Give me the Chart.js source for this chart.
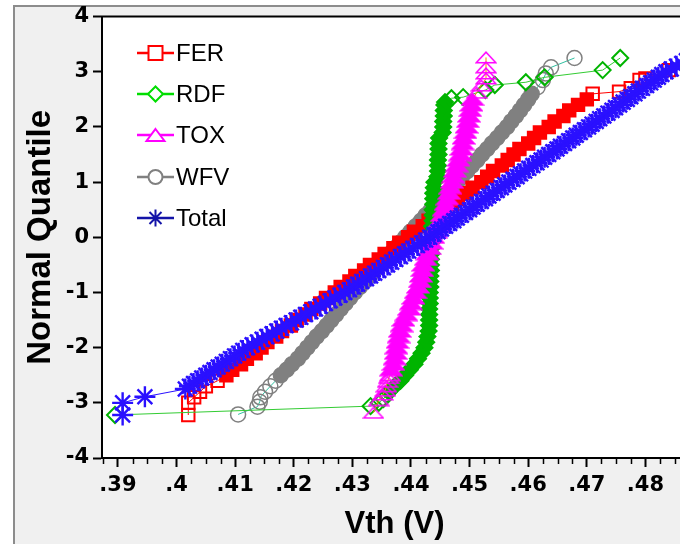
<!DOCTYPE html>
<html>
<head>
<meta charset="utf-8">
<script src="https://cdn.jsdelivr.net/npm/chart.js@4.4.1/dist/chart.umd.min.js"></script>
<style>
html, body { margin: 0; padding: 0; background: #ffffff; }
#wrap { position: relative; width: 680px; height: 544px; overflow: hidden; background: #ffffff; }
#frame { position: absolute; left: 13px; top: 5px; width: 720px; height: 600px; background: #f0f0f0;
         border-left: 2px solid #8c8c8c; border-top: 2px solid #8c8c8c; }
#c { position: absolute; left: 0; top: 0; }
</style>
</head>
<body>
<div id="wrap"><div id="frame"></div><canvas id="c" width="700" height="544"></canvas></div>
<script>
// ---------------- data ----------------
const seriesNames = ['FER', 'RDF', 'TOX', 'WFV', 'Total'];

const ferQ = [-3.22, -3.0, -2.9, -2.8, -2.7,
  -2.6, -2.5, -2.4, -2.3, -2.2, -2.1, -2.0, -1.9, -1.8, -1.7, -1.6, -1.5, -1.4, -1.3, -1.2, -1.1, -1.0,
  -0.9, -0.8, -0.7, -0.6, -0.5, -0.4, -0.3, -0.2, -0.1, 0.0, 0.1, 0.2, 0.3, 0.4, 0.5, 0.6, 0.7, 0.8, 0.9, 1.0,
  1.1, 1.2, 1.3, 1.4, 1.5, 1.6, 1.7, 1.8, 1.9, 2.0, 2.1, 2.2, 2.3, 2.4, 2.5, 2.6,
  2.64, 2.7, 2.85, 2.88, 3.03];
const ferVth = [0.402, 0.402, 0.403, 0.404, 0.405,
  0.407, 0.4085, 0.4095, 0.411, 0.412, 0.4135, 0.4145, 0.4155, 0.417, 0.418, 0.4195, 0.4205, 0.422, 0.423, 0.4245, 0.4255, 0.427,
  0.428, 0.4295, 0.4305, 0.432, 0.433, 0.4345, 0.4355, 0.437, 0.438, 0.4395, 0.4405, 0.442, 0.443, 0.4445, 0.4455, 0.447, 0.448, 0.4495, 0.4505, 0.452,
  0.453, 0.454, 0.4555, 0.4565, 0.4575, 0.4585, 0.46, 0.461, 0.462, 0.4635, 0.4645, 0.466, 0.467, 0.4685, 0.47, 0.471,
  0.4755, 0.4775, 0.479, 0.48, 0.484];

const rdfQ = [-3.22, -3.06, -3.0, -2.93, -2.86,
  -2.8, -2.7, -2.6, -2.5, -2.4, -2.3, -2.2, -2.1, -2.0, -1.9, -1.8, -1.7, -1.6, -1.5, -1.4, -1.3, -1.2, -1.1, -1.0,
  -0.9, -0.8, -0.7, -0.6, -0.5, -0.4, -0.3, -0.2, -0.1, 0.0, 0.1, 0.2, 0.3, 0.4, 0.5, 0.6, 0.7, 0.8, 0.9, 1.0,
  1.1, 1.2, 1.3, 1.4, 1.5, 1.6, 1.7, 1.8, 1.9, 2.0, 2.1, 2.2, 2.3, 2.4, 2.45,
  2.52, 2.54, 2.67, 2.76, 2.81, 2.9, 3.03, 3.25];
const rdfVth = [0.3895, 0.4331, 0.4345, 0.4353, 0.4358,
  0.4362, 0.4372, 0.4382, 0.439, 0.4398, 0.4406, 0.4412, 0.4418, 0.4423, 0.4426, 0.4428, 0.443, 0.4431, 0.4431, 0.4431, 0.4431, 0.4432, 0.4432, 0.4432,
  0.4433, 0.4433, 0.4433, 0.4434, 0.4434, 0.4434, 0.4435, 0.4435, 0.4435, 0.4436, 0.4436, 0.4436, 0.4437, 0.4437, 0.4437, 0.4438, 0.4438, 0.4438, 0.4439, 0.444,
  0.4445, 0.4446, 0.4446, 0.4446, 0.4447, 0.4447, 0.4447, 0.4448, 0.4454, 0.4455, 0.4455, 0.4456, 0.4456, 0.4457, 0.4458,
  0.4469, 0.4489, 0.4527, 0.4543, 0.4596, 0.4628, 0.4727, 0.4757];

const toxQ = [-3.18, -2.95, -2.85, -2.78, -2.7, -2.62, -2.55,
  -2.5, -2.4, -2.3, -2.2, -2.1, -2.0, -1.9, -1.8, -1.7, -1.6, -1.5, -1.4, -1.3, -1.2, -1.1, -1.0,
  -0.9, -0.8, -0.7, -0.6, -0.5, -0.4, -0.3, -0.2, -0.1, 0.0, 0.1, 0.2, 0.3, 0.4, 0.5, 0.6, 0.7, 0.8, 0.9, 1.0,
  1.1, 1.2, 1.3, 1.4, 1.5, 1.6, 1.7, 1.8, 1.9, 2.0, 2.1, 2.2, 2.3, 2.4, 2.5,
  2.62, 2.75, 2.88, 2.97, 3.08, 3.26];
const toxVth = [0.4336, 0.4345, 0.4352, 0.4356, 0.4358, 0.436, 0.4362,
  0.4364, 0.4366, 0.437, 0.4372, 0.4374, 0.4375, 0.4377, 0.4379, 0.4381, 0.4384, 0.4387, 0.4392, 0.4397, 0.44, 0.4404, 0.4408,
  0.4412, 0.4415, 0.4417, 0.4419, 0.4421, 0.4425, 0.4428, 0.4432, 0.4435, 0.4438, 0.4442, 0.4446, 0.445, 0.4453, 0.4456, 0.4459, 0.4462, 0.4465, 0.4467, 0.447,
  0.4472, 0.4475, 0.4478, 0.4481, 0.4484, 0.4486, 0.4488, 0.449, 0.4493, 0.4495, 0.4497, 0.4499, 0.4501, 0.4503, 0.4505,
  0.4512, 0.452, 0.4528, 0.4528, 0.4528, 0.4528];

const wfvQ = [-3.21, -3.07, -2.98,
  -2.9, -2.8, -2.7, -2.6, -2.5, -2.4, -2.3, -2.2, -2.1, -2.0, -1.9, -1.8, -1.7, -1.6, -1.5, -1.4, -1.3, -1.2, -1.1, -1.0,
  -0.9, -0.8, -0.7, -0.6, -0.5, -0.4, -0.3, -0.2, -0.1, 0.0, 0.1, 0.2, 0.3, 0.4, 0.5, 0.6, 0.7, 0.8, 0.9, 1.0,
  1.1, 1.2, 1.3, 1.4, 1.5, 1.6, 1.7, 1.8, 1.9, 2.0, 2.1, 2.2, 2.3, 2.4, 2.5, 2.6,
  2.72, 2.85, 2.97, 3.08, 3.25];
const wfvVth = [0.4105, 0.4138, 0.4142,
  0.4143, 0.4151, 0.416, 0.4169, 0.4178, 0.4188, 0.4197, 0.4207, 0.4215, 0.4223, 0.4231, 0.4239, 0.4248, 0.4256, 0.4264, 0.4272, 0.428, 0.4288, 0.4296, 0.4304,
  0.4313, 0.4321, 0.433, 0.4338, 0.4347, 0.4355, 0.4364, 0.4372, 0.4381, 0.439, 0.4399, 0.4408, 0.4417, 0.4425, 0.4434, 0.4443, 0.4452, 0.4461, 0.447, 0.4479,
  0.4487, 0.4496, 0.4504, 0.4513, 0.4521, 0.453, 0.4538, 0.4547, 0.4555, 0.4564, 0.4571, 0.4579, 0.4586, 0.4593, 0.46, 0.4606,
  0.4616, 0.4625, 0.463, 0.4639, 0.4679];

const totalQ = [-3.22, -3.0, -2.89, -2.75,
  -2.70, -2.65, -2.60, -2.55, -2.50, -2.45, -2.40, -2.35, -2.30, -2.25, -2.20, -2.15, -2.10, -2.05,
  -2.00, -1.95, -1.90, -1.85, -1.80, -1.75, -1.70, -1.65, -1.60, -1.55, -1.50, -1.45, -1.40, -1.35, -1.30, -1.25, -1.20, -1.15, -1.10, -1.05,
  -1.00, -0.95, -0.90, -0.85, -0.80, -0.75, -0.70, -0.65, -0.60, -0.55, -0.50, -0.45, -0.40, -0.35, -0.30, -0.25, -0.20, -0.15, -0.10, -0.05,
  0.00, 0.05, 0.10, 0.15, 0.20, 0.25, 0.30, 0.35, 0.40, 0.45, 0.50, 0.55, 0.60, 0.65, 0.70, 0.75, 0.80, 0.85, 0.90, 0.95,
  1.00, 1.05, 1.10, 1.15, 1.20, 1.25, 1.30, 1.35, 1.40, 1.45, 1.50, 1.55, 1.60, 1.65, 1.70, 1.75, 1.80, 1.85, 1.90, 1.95,
  2.00, 2.05, 2.10, 2.15, 2.20, 2.25, 2.30, 2.35, 2.40, 2.45, 2.50, 2.55, 2.60, 2.65, 2.70, 2.75, 2.80, 2.85, 2.90, 2.95,
  3.00, 3.05, 3.10, 3.15, 3.20];
const totalVth = [0.3908, 0.3908, 0.3946, 0.4015,
  0.4022, 0.4029, 0.4036, 0.4043, 0.4050, 0.4057, 0.4064, 0.4071, 0.4078, 0.4085, 0.4092, 0.4099, 0.4106, 0.4113,
  0.4121, 0.4129, 0.4138, 0.4146, 0.4154, 0.4163, 0.4171, 0.4179, 0.4187, 0.4196, 0.4204, 0.4212, 0.4220, 0.4229, 0.4237, 0.4245, 0.4254, 0.4262, 0.4270, 0.4279,
  0.4287, 0.4295, 0.4302, 0.4309, 0.4316, 0.4324, 0.4331, 0.4338, 0.4345, 0.4353, 0.4360, 0.4367, 0.4374, 0.4382, 0.4389, 0.4396, 0.4403, 0.4411, 0.4418, 0.4425,
  0.4432, 0.4439, 0.4446, 0.4452, 0.4459, 0.4466, 0.4473, 0.4479, 0.4486, 0.4493, 0.4500, 0.4506, 0.4513, 0.4520, 0.4527, 0.4533, 0.4540, 0.4547, 0.4554, 0.4560,
  0.4567, 0.4574, 0.4581, 0.4587, 0.4594, 0.4601, 0.4608, 0.4615, 0.4622, 0.4628, 0.4635, 0.4642, 0.4649, 0.4655, 0.4662, 0.4669, 0.4676, 0.4682, 0.4689, 0.4696,
  0.4703, 0.4709, 0.4716, 0.4722, 0.4729, 0.4736, 0.4743, 0.4749, 0.4756, 0.4762, 0.4769, 0.4775, 0.4782, 0.4788, 0.4795, 0.4802, 0.4809, 0.4815, 0.4822, 0.4828,
  0.4835, 0.4844, 0.4853, 0.4862, 0.4870];

const xMajorTicks = [0.39, 0.40, 0.41, 0.42, 0.43, 0.44, 0.45, 0.46, 0.47, 0.48];
const xTickLabels = ['.39', '.4', '.41', '.42', '.43', '.44', '.45', '.46', '.47', '.48'];
const yTickValues = [-4, -3, -2, -1, 0, 1, 2, 3, 4];
const xTitle = 'Vth (V)';
const yTitle = 'Normal Quantile';

// ---------------- styles ----------------
const FONT = '"Liberation Sans", Arial, Helvetica, sans-serif';
const TICKFONT = '"DejaVu Sans", Verdana, sans-serif';

function makeTri(color, filled, w, h) {
  const c = document.createElement('canvas');
  c.width = w; c.height = h;
  const g = c.getContext('2d');
  g.beginPath();
  g.moveTo(w / 2, 1.2); g.lineTo(w - 1.2, h - 1.2); g.lineTo(1.2, h - 1.2); g.closePath();
  if (filled) { g.fillStyle = color; g.fill(); }
  g.strokeStyle = color; g.lineWidth = 1.6; g.stroke();
  return c;
}
const triSolid = makeTri('#ff00ff', true, 24, 14);
const triHollow = makeTri('#ff00ff', false, 22, 13);

function buildData(q, v, lo, hi) {
  const n = Math.min(q.length, v.length);
  const out = [];
  for (let i = 0; i < n; i++) out.push({ x: v[i], y: q[i], s: q[i] >= lo && q[i] <= hi });
  return out;
}

const series = [
  { q: ferQ, v: ferVth, lo: -2.55, hi: 2.55, color: '#ff0000', line: '#ff0000', style: 'rect', r: 8.8, bw: 2, order: 3 },
  { q: rdfQ, v: rdfVth, lo: -2.8, hi: 2.45, color: '#00b400', line: '#33cc33', style: 'rectRot', r: 8, bw: 2, order: 2 },
  { q: toxQ, v: toxVth, lo: -2.45, hi: 2.55, color: '#ff00ff', line: '#ff8800', style: 'tri', r: 7, bw: 1.5, order: 1 },
  { q: wfvQ, v: wfvVth, lo: -2.5, hi: 2.65, color: '#808080', line: '#30c0a0', style: 'circle', r: 7.5, bw: 1.5, order: 4 },
  { q: totalQ, v: totalVth, lo: -2.75, hi: 3.3, color: '#2a10ff', line: '#2a10ff', style: 'star', r: 10.5, bw: 2.4, order: 0 }
];

const datasets = series.map((s, i) => ({
  label: seriesNames[i],
  data: buildData(s.q, s.v, s.lo, s.hi),
  showLine: true,
  borderColor: s.line,
  borderWidth: 1,
  order: s.order,
  pointStyle: s.style === 'tri'
    ? (ctx) => (ctx.raw && ctx.raw.s ? triSolid : triHollow)
    : s.style,
  pointRadius: s.r,
  pointBorderWidth: s.bw,
  pointBorderColor: s.color,
  pointBackgroundColor: (ctx) => (ctx.raw && ctx.raw.s ? s.color : 'rgba(0,0,0,0)')
}));

function isMajor(v) { return xMajorTicks.some(m => Math.abs(m - v) < 1e-7); }

const legendColors = ['#ff0000', '#00dd00', '#ff00ff', '#808080', '#1414a8'];
const legendStyles = ['rect', 'diamond', 'tri', 'circle', 'star'];

function drawLegendMarker(g, kind, x, y, color) {
  g.save();
  g.strokeStyle = color; g.fillStyle = '#ffffff'; g.lineWidth = 2;
  g.beginPath();
  if (kind === 'rect') { g.rect(x - 7, y - 7, 14, 14); g.fill(); g.stroke(); }
  else if (kind === 'diamond') { g.moveTo(x, y - 7.5); g.lineTo(x + 7.5, y); g.lineTo(x, y + 7.5); g.lineTo(x - 7.5, y); g.closePath(); g.fill(); g.stroke(); }
  else if (kind === 'tri') { g.moveTo(x, y - 6); g.lineTo(x + 9, y + 6); g.lineTo(x - 9, y + 6); g.closePath(); g.fill(); g.stroke(); }
  else if (kind === 'circle') { g.arc(x, y, 7, 0, Math.PI * 2); g.fill(); g.stroke(); }
  else if (kind === 'star') {
    const r = 8.5;
    for (let k = 0; k < 4; k++) {
      const a = k * Math.PI / 4;
      g.moveTo(x - r * Math.cos(a), y - r * Math.sin(a));
      g.lineTo(x + r * Math.cos(a), y + r * Math.sin(a));
    }
    g.stroke();
  }
  g.restore();
}

const framePlugin = {
  id: 'framePlugin',
  beforeDraw(chart) {
    const { ctx, chartArea: a } = chart;
    ctx.save();
    ctx.fillStyle = '#ffffff';
    ctx.fillRect(a.left, a.top, a.right - a.left, a.bottom - a.top);
    ctx.restore();
  },
  afterDraw(chart) {
    const { ctx, chartArea: a } = chart;
    const xs = chart.scales.x;
    ctx.save();
    ctx.strokeStyle = '#000'; ctx.lineWidth = 2;
    ctx.beginPath(); ctx.moveTo(a.left - 1, a.top); ctx.lineTo(a.right + 20, a.top); ctx.stroke();
    ctx.lineWidth = 1.5;
    xs.ticks.forEach(t => {
      if (isMajor(t.value)) return;
      const px = Math.round(xs.getPixelForValue(t.value)) + 0.5;
      ctx.beginPath(); ctx.moveTo(px, a.bottom); ctx.lineTo(px, a.bottom + 6); ctx.stroke();
    });
    const ys = [53, 94, 135, 177, 218];
    ctx.font = 'normal 24px ' + FONT;
    ctx.textBaseline = 'middle';
    ctx.textAlign = 'left';
    seriesNames.forEach((name, i) => {
      const y = ys[i];
      ctx.strokeStyle = legendColors[i]; ctx.lineWidth = 2.5;
      ctx.beginPath(); ctx.moveTo(137, y); ctx.lineTo(174, y); ctx.stroke();
      drawLegendMarker(ctx, legendStyles[i], 155.5, y, legendColors[i]);
      ctx.fillStyle = '#000';
      ctx.fillText(name, 176, y + 1);
    });
    ctx.restore();
  }
};

new Chart(document.getElementById('c'), {
  type: 'scatter',
  data: { datasets },
  plugins: [framePlugin],
  options: {
    responsive: false,
    animation: false,
    devicePixelRatio: 1,
    events: [],
    layout: { padding: { left: 0, top: 16, right: 10, bottom: 0 } },
    plugins: { legend: { display: false }, tooltip: { enabled: false } },
    scales: {
      x: {
        type: 'linear',
        min: 0.38728,
        max: 0.48711,
        afterBuildTicks: (sc) => {
          const t = [];
          for (let k = 155; k <= 195; k++) {
            const v = k * 0.0025;
            if (v >= sc.min && v <= sc.max) t.push({ value: v });
          }
          sc.ticks = t;
        },
        afterFit: (sc) => { sc.height = 86; },
        ticks: {
          autoSkip: false,
          maxRotation: 0,
          padding: 6,
          color: '#000',
          font: { family: TICKFONT, size: 21, weight: 'bold' },
          callback: (v) => {
            const i = xMajorTicks.findIndex(m => Math.abs(m - v) < 1e-7);
            return i >= 0 ? xTickLabels[i] : '';
          }
        },
        grid: {
          drawOnChartArea: false,
          tickLength: 9,
          tickWidth: 2,
          tickColor: (ctx) => (ctx.tick && isMajor(ctx.tick.value) ? '#000' : 'rgba(0,0,0,0)')
        },
        border: { display: true, color: '#000', width: 2 },
        title: {
          display: true, text: xTitle, color: '#000',
          font: { family: FONT, size: 31, weight: 'bold', lineHeight: 1 },
          padding: { top: 0, bottom: 4 }
        }
      },
      y: {
        type: 'linear',
        min: -4,
        max: 4,
        afterBuildTicks: (sc) => { sc.ticks = yTickValues.map(v => ({ value: v })); },
        afterFit: (sc) => { sc.width = 102; },
        ticks: {
          padding: 4,
          color: '#000',
          font: { family: TICKFONT, size: 21, weight: 'bold' }
        },
        grid: { drawOnChartArea: false, tickLength: 9, tickWidth: 2, tickColor: '#000' },
        border: { display: true, color: '#000', width: 2 },
        title: {
          display: true, text: yTitle, color: '#000',
          font: { family: FONT, size: 33, weight: 'bold', lineHeight: 1 },
          padding: { top: 24, bottom: 0 }
        }
      }
    }
  }
});
</script>
</body>
</html>
